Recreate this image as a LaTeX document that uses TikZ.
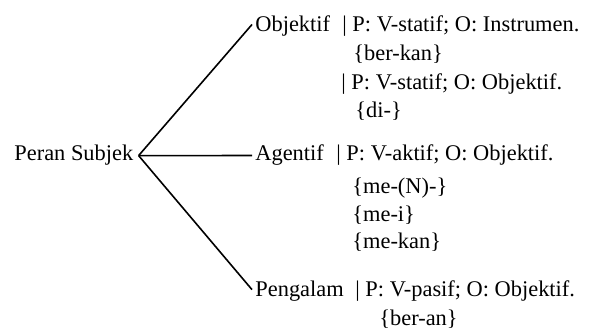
\documentclass[tikz,border=0pt]{standalone}
\usepackage{fontspec}
\setmainfont{Liberation Serif}
\begin{document}
\begin{tikzpicture}[x=0.5pt,y=-0.5pt,
  txt/.style={inner sep=0pt, anchor=base west, font=\fontsize{11.2}{13}\selectfont},
  leaf/.style={txt, inner xsep=1.5pt},
  branch/.style={line width=0.8pt}]
\useasboundingbox (0,0) rectangle (590,331);
\node[txt, inner xsep=2.5pt] (root) at (9,161) {Peran Subjek};
\node[leaf] (obj) at (252,32) {Objektif};
\node[txt] (objd) at (342,32) {| P: V-statif; O: Instrumen.};
\node[txt] (berkan) at (353,61) {\{ber-kan\}};
\node[txt] (objd2) at (341,90) {| P: V-statif; O: Objektif.};
\node[txt] (di) at (355,118) {\{di-\}};
\node[leaf] (agt) at (252,161) {Agentif};
\node[txt] (agtd) at (336,161) {| P: V-aktif; O: Objektif.};
\node[txt] (meN) at (352,194) {\{me-(N)-\}};
\node[txt] (mei) at (352,222) {\{me-i\}};
\node[txt] (mekan) at (352,249) {\{me-kan\}};
\node[leaf] (pen) at (252,297) {Pengalam};
\node[txt] (pend) at (355,297) {| P: V-pasif; O: Objektif.};
\node[txt] (beran) at (379,326) {\{ber-an\}};
\draw[branch] (root.east) -- ([yshift=1pt]obj.west);
\draw[branch] (root.east) -- (agt.west);
\draw[branch] (root.east) -- ([yshift=1pt]pen.west);
\end{tikzpicture}
\end{document}
